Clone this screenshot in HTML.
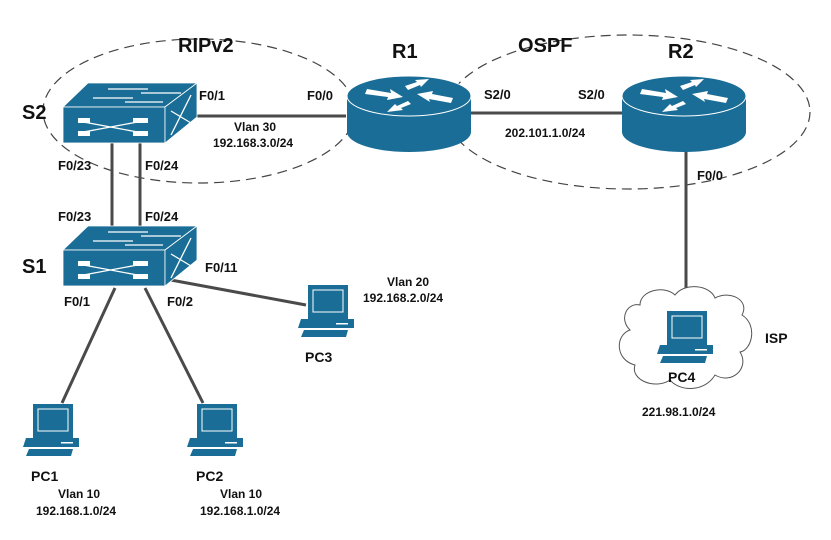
<!DOCTYPE html>
<html><head><meta charset="utf-8"><style>
html,body{margin:0;padding:0;background:#fff;}
svg{display:block;}
text{font-family:"Liberation Sans",Arial,sans-serif;font-weight:bold;fill:#111;}
</style></head><body>
<svg width="831" height="540" viewBox="0 0 831 540" xmlns="http://www.w3.org/2000/svg">
<defs>
<g id="sw">
  <polygon points="0,24 25,0 134,0 102,24" fill="#1a6d96" stroke="#fff" stroke-width="0.8"/>
  <rect x="0" y="24" width="102" height="36" fill="#1a6d96" stroke="#fff" stroke-width="0.8"/>
  <polygon points="102,24 134,0 134,34 102,60" fill="#1a6d96" stroke="#fff" stroke-width="0.8"/>
  <g stroke="#fff" stroke-width="1.3" fill="none">
    <line x1="45" y1="6" x2="85" y2="6"/><line x1="78" y1="10" x2="118" y2="10"/>
    <line x1="30" y1="15" x2="70" y2="15"/><line x1="62" y1="19" x2="100" y2="19"/>
    <line x1="15" y1="38" x2="80" y2="50"/><line x1="15" y1="50" x2="80" y2="38"/>
    <line x1="108" y1="52" x2="128" y2="12"/><line x1="108" y1="28" x2="128" y2="40"/>
  </g>
  <rect x="15" y="35" width="12" height="5" fill="#fff"/><rect x="70" y="35" width="15" height="5" fill="#fff"/>
  <rect x="15" y="48" width="12" height="5" fill="#fff"/><rect x="70" y="48" width="15" height="5" fill="#fff"/>
</g>
<g id="rt">
  <path d="M-62,0 L-62,36 A62,20 0 0 0 62,36 L62,0 Z" fill="#1a6d96"/>
  <ellipse cx="0" cy="0" rx="62" ry="20" fill="#1a6d96" stroke="#fff" stroke-width="1"/>
  <g fill="#fff">
    <polygon points="-42,-7 -18,-3 -19,-7 -6,1 -22,4 -21,1 -44,-2"/>
    <polygon points="-4,-10 8,-14 6,-16 20,-17 12,-9 11,-11 -1,-6"/>
    <polygon points="42,7 20,3 21,6 8,-2 24,-5 23,-2 44,2"/>
    <polygon points="2,8 -8,12 -6,14 -22,16 -14,8 -12,10 -1,5"/>
  </g>
</g>
<g id="pc">
  <rect x="10" y="0" width="40" height="34" fill="#1a6d96"/>
  <rect x="15" y="5" width="30" height="22" fill="none" stroke="#fff" stroke-width="1"/>
  <polygon points="3,34 56,34 56,43 0,43" fill="#1a6d96"/>
  <rect x="38" y="38" width="12" height="1.5" fill="#fff"/>
  <polygon points="6,45 50,45 48,52 3,52" fill="#1a6d96"/>
</g>
</defs>

<!-- dashed ellipses -->
<ellipse cx="199" cy="111" rx="156" ry="72" fill="none" stroke="#444" stroke-width="1.2" stroke-dasharray="10,6"/>
<ellipse cx="628" cy="112" rx="182" ry="77" fill="none" stroke="#444" stroke-width="1.2" stroke-dasharray="10,6"/>

<!-- links -->
<g stroke="#4a4a4a" stroke-width="3">
  <line x1="112" y1="143" x2="112" y2="228"/>
  <line x1="140" y1="143" x2="140" y2="228"/>
  <line x1="195" y1="116" x2="346" y2="116"/>
  <line x1="470" y1="113" x2="622" y2="113"/>
  <line x1="686" y1="150" x2="686" y2="293"/>
  <line x1="115" y1="288" x2="62" y2="403"/>
  <line x1="145" y1="288" x2="203" y2="403"/>
  <line x1="160" y1="278" x2="306" y2="305"/>
</g>

<use href="#sw" x="63" y="83"/>
<use href="#sw" x="63" y="226"/>
<use href="#rt" x="409" y="96"/>
<use href="#rt" x="684" y="96"/>

<!-- cloud -->
<path d="M640,305 C640,290 665,285 675,295 C685,282 710,285 715,298 C730,290 750,300 742,315 C758,325 752,350 740,352 C750,368 732,385 715,375 C705,392 680,392 670,380 C655,390 630,380 635,365 C615,360 615,335 630,330 C618,318 628,302 640,305 Z" fill="#fff" stroke="#555" stroke-width="1"/>

<use href="#pc" x="657" y="311"/>
<use href="#pc" x="298" y="285"/>
<use href="#pc" x="23" y="404"/>
<use href="#pc" x="187" y="404"/>

<!-- labels -->
<g font-size="20">
  <text x="22" y="119">S2</text>
  <text x="22" y="273">S1</text>
  <text x="392" y="58">R1</text>
  <text x="668" y="58">R2</text>
  <text x="178" y="52">RIPv2</text>
  <text x="518" y="52">OSPF</text>
</g>
<g font-size="14">
  <text x="765" y="343">ISP</text>
  <text x="305" y="362">PC3</text>
  <text x="31" y="481">PC1</text>
  <text x="196" y="481">PC2</text>
  <text x="668" y="382">PC4</text>
</g>
<g font-size="13">
  <text x="199" y="100">F0/1</text>
  <text x="307" y="100">F0/0</text>
  <text x="484" y="99">S2/0</text>
  <text x="578" y="99">S2/0</text>
  <text x="697" y="180">F0/0</text>
  <text x="58" y="170">F0/23</text>
  <text x="145" y="170">F0/24</text>
  <text x="58" y="221">F0/23</text>
  <text x="145" y="221">F0/24</text>
  <text x="205" y="272">F0/11</text>
  <text x="64" y="306">F0/1</text>
  <text x="167" y="306">F0/2</text>
</g>
<g font-size="12">
  <text x="234" y="131">Vlan 30</text>
  <text x="213" y="147">192.168.3.0/24</text>
  <text x="505" y="137">202.101.1.0/24</text>
  <text x="387" y="286">Vlan 20</text>
  <text x="363" y="302">192.168.2.0/24</text>
  <text x="642" y="416">221.98.1.0/24</text>
  <text x="58" y="498">Vlan 10</text>
  <text x="36" y="515">192.168.1.0/24</text>
  <text x="220" y="498">Vlan 10</text>
  <text x="200" y="515">192.168.1.0/24</text>
</g>
</svg>
</body></html>
